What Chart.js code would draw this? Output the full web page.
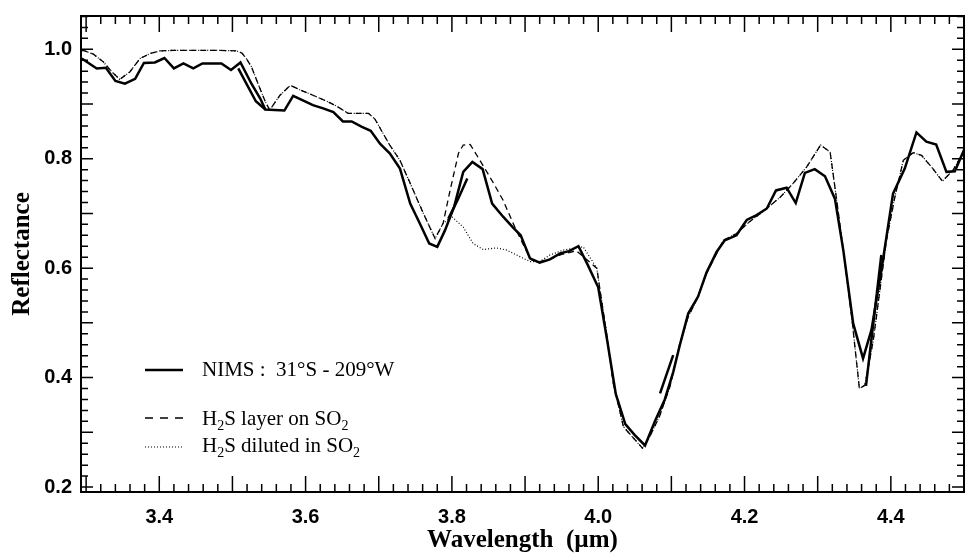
<!DOCTYPE html>
<html>
<head>
<meta charset="utf-8">
<script src="https://cdn.jsdelivr.net/npm/chart.js@4.4.1/dist/chart.umd.min.js"></script>
<style>
  html, body { margin: 0; padding: 0; background: #fff; }
  #wrap { position: relative; width: 965px; height: 554px; }
  .key { position: absolute; left: 202px; font-family: "Liberation Serif", "Times New Roman", serif; font-size: 21px; line-height: 21px; color: #000; white-space: nowrap; }
  .key sub { font-size: 14px; vertical-align: baseline; position: relative; top: 5px; }
  .sample { position: absolute; left: 145px; }
</style>
</head>
<body>
<div id="wrap">
  <canvas id="spectrum" width="965" height="554"></canvas>

  <svg class="sample" style="top:367px" width="40" height="6"><line x1="0" y1="3" x2="38" y2="3" stroke="#000" stroke-width="2.5"/></svg>
  <div class="key" style="top:359px">NIMS :&nbsp; 31°S - 209°W</div>

  <svg class="sample" style="top:415px" width="40" height="6"><line x1="0" y1="3" x2="38" y2="3" stroke="#000" stroke-width="1.3" stroke-dasharray="8 7"/></svg>
  <div class="key" style="top:408px">H<sub>2</sub>S layer on SO<sub>2</sub></div>

  <svg class="sample" style="top:444px" width="40" height="6"><line x1="0" y1="3" x2="38" y2="3" stroke="#000" stroke-width="1.2" stroke-dasharray="1 2"/></svg>
  <div class="key" style="top:435px">H<sub>2</sub>S diluted in SO<sub>2</sub></div>
</div>

<script>
// tick labels
const xTickLabels = [3.4, 3.6, 3.8, 4.0, 4.2, 4.4];
const yTickLabels = [0.2, 0.4, 0.6, 0.8, 1.0];

// NIMS spectrum
const nimsWave = [3.294, 3.3145, 3.327, 3.340, 3.353, 3.367, 3.379, 3.394, 3.407, 3.420, 3.433, 3.4465, 3.459, 3.472, 3.485, 3.498,
  3.511, 3.526, 3.538, 3.545, 3.558, 3.571, 3.583, 3.597, 3.610, 3.624, 3.638, 3.651, 3.663, 3.677, 3.689, 3.702, 3.715, 3.729,
  3.743, 3.756, 3.769, 3.780, 3.7905, 3.803, 3.8155, 3.828, 3.842, 3.855, 3.870, 3.883, 3.894, 3.9067, 3.920, 3.934, 3.948,
  3.960, 3.973, 3.986, 4.000, 4.012, 4.024, 4.037, 4.050, 4.064, 4.0775, 4.091, 4.1025, 4.1115, 4.123, 4.1365, 4.148, 4.162,
  4.173, 4.189, 4.203, 4.2165, 4.2305, 4.243, 4.2575, 4.270, 4.2825, 4.296, 4.310, 4.3235, 4.335, 4.3485, 4.362, 4.3735, 4.387,
  4.403, 4.419, 4.435, 4.4485, 4.462, 4.476, 4.4875, 4.501];
const nimsRefl = [0.983, 0.965, 0.966, 0.942, 0.937, 0.946, 0.975, 0.976, 0.984, 0.965, 0.974, 0.965, 0.974, 0.974, 0.974, 0.962,
  0.976, 0.937, 0.910, 0.890, 0.889, 0.888, 0.915, 0.906, 0.898, 0.892, 0.885, 0.868, 0.868, 0.858, 0.851, 0.827, 0.810, 0.782,
  0.718, 0.682, 0.645, 0.639, 0.669, 0.712, 0.776, 0.794, 0.781, 0.718, 0.694, 0.675, 0.660, 0.618, 0.610, 0.616, 0.627,
  0.631, 0.640, 0.605, 0.565, 0.470, 0.370, 0.315, 0.295, 0.276, 0.320, 0.360, 0.410, 0.459, 0.517, 0.548, 0.592, 0.630,
  0.651, 0.660, 0.688, 0.697, 0.709, 0.742, 0.747, 0.719, 0.774, 0.781, 0.768, 0.727, 0.633, 0.499, 0.435, 0.487, 0.596,
  0.736, 0.782, 0.848, 0.831, 0.826, 0.776, 0.777, 0.819];

// short overlapping NIMS pieces
const nimsPieceWave = [[3.508, 3.520, 3.532, 3.545], [3.795, 3.808, 3.821], [4.0845, 4.1025], [4.366, 4.387]];
const nimsPieceRefl = [[0.965, 0.935, 0.905, 0.890], [0.690, 0.725, 0.764], [0.371, 0.441], [0.385, 0.624]];

// models: common part below 3.79 µm
const modelWaveA = [3.294, 3.298, 3.310, 3.3235, 3.335, 3.346, 3.360, 3.3735, 3.387, 3.401, 3.420, 3.450, 3.480, 3.506, 3.513,
  3.519, 3.526, 3.535, 3.545, 3.551, 3.565, 3.579, 3.592, 3.610, 3.629, 3.6425, 3.658, 3.686, 3.695, 3.706, 3.715, 3.729,
  3.745, 3.761, 3.777, 3.788];
const modelReflA = [0.998, 0.997, 0.991, 0.977, 0.959, 0.945, 0.959, 0.983, 0.992, 0.997, 0.998, 0.998, 0.998, 0.997, 0.993,
  0.983, 0.968, 0.937, 0.904, 0.889, 0.916, 0.934, 0.926, 0.916, 0.905, 0.896, 0.883, 0.883, 0.872, 0.846, 0.825, 0.797,
  0.749, 0.700, 0.654, 0.682];

// H2S layer on SO2 (3.79 - 3.98 µm)
const layerWave = [3.797, 3.809, 3.8155, 3.825, 3.841, 3.857, 3.870, 3.886, 3.900, 3.909, 3.920, 3.935, 3.950, 3.970];
const layerRefl = [0.739, 0.810, 0.825, 0.826, 0.791, 0.755, 0.724, 0.675, 0.636, 0.615, 0.612, 0.617, 0.625, 0.632];

// H2S diluted in SO2 (3.79 - 3.98 µm)
const dilutedWave = [3.800, 3.8155, 3.829, 3.843, 3.861, 3.875, 3.893, 3.9067, 3.920, 3.934, 3.952, 3.9795];
const dilutedRefl = [0.694, 0.675, 0.645, 0.634, 0.637, 0.633, 0.621, 0.612, 0.612, 0.624, 0.633, 0.639];

// models: common part above 3.98 µm
const modelWaveB = [3.998, 4.0115, 4.0205, 4.0345, 4.0605, 4.0705, 4.084, 4.098, 4.1115, 4.123, 4.1345, 4.148, 4.171, 4.189,
  4.207, 4.2305, 4.249, 4.2665, 4.285, 4.304, 4.317, 4.326, 4.338, 4.3465, 4.357, 4.3645, 4.376, 4.394, 4.4055, 4.417,
  4.4305, 4.442, 4.4555, 4.4705, 4.485, 4.501];
const modelReflB = [0.600, 0.480, 0.390, 0.310, 0.271, 0.292, 0.330, 0.383, 0.462, 0.511, 0.542, 0.590, 0.651, 0.663,
  0.685, 0.709, 0.730, 0.755, 0.785, 0.825, 0.812, 0.724, 0.602, 0.511, 0.380, 0.386, 0.468, 0.651, 0.730, 0.797,
  0.811, 0.806, 0.785, 0.759, 0.779, 0.816];

function toPoints(w, r) {
    return w.map((v, i) => ({ x: v, y: r[i] }));
}

const lineStyle = { borderColor: '#000', pointRadius: 0, tension: 0, fill: false };

const datasets = [
    { ...lineStyle, label: 'NIMS', data: toPoints(nimsWave, nimsRefl), borderWidth: 2.5 },
    ...nimsPieceWave.map((w, i) => ({ ...lineStyle, label: 'NIMS piece', data: toPoints(w, nimsPieceRefl[i]), borderWidth: 2.5 })),
    {
        ...lineStyle, label: 'H2S layer on SO2', borderWidth: 1.3, borderDash: [6, 4],
        data: toPoints([...modelWaveA, ...layerWave, ...modelWaveB], [...modelReflA, ...layerRefl, ...modelReflB])
    },
    {
        ...lineStyle, label: 'H2S diluted in SO2', borderWidth: 1.2, borderDash: [1, 2],
        data: toPoints([...modelWaveA, ...dilutedWave, ...modelWaveB], [...modelReflA, ...dilutedRefl, ...modelReflB])
    }
];

// frame on four sides with inward ticks
const frameTicks = {
    id: 'frameTicks',
    afterDatasetsDraw(chart) {
        const { ctx, chartArea: a, scales: { x, y } } = chart;
        ctx.save();
        ctx.strokeStyle = '#000';
        ctx.lineWidth = 1.5;
        ctx.beginPath();
        for (let i = 0; i <= 60; i++) {
            const px = x.getPixelForValue(3.3 + i * 0.02);
            const len = i % 5 === 0 ? 16 : 8;
            ctx.moveTo(px, a.bottom); ctx.lineTo(px, a.bottom - len);
            ctx.moveTo(px, a.top); ctx.lineTo(px, a.top + len);
        }
        for (let i = 0; i <= 43; i++) {
            const py = y.getPixelForValue(0.2 + i * 0.02);
            const len = i % 5 === 0 ? 12 : 7;
            ctx.moveTo(a.left, py); ctx.lineTo(a.left + len, py);
            ctx.moveTo(a.right, py); ctx.lineTo(a.right - len, py);
        }
        ctx.stroke();
        ctx.lineWidth = 2;
        ctx.strokeRect(a.left, a.top, a.right - a.left, a.bottom - a.top);
        ctx.restore();
    }
};

const tickFont = { family: 'Liberation Sans', size: 20, weight: 'bold' };
const titleFont = { family: 'Liberation Serif', size: 25, weight: 'bold', lineHeight: 1 };

new Chart(document.getElementById('spectrum'), {
    type: 'line',
    data: { datasets: datasets },
    plugins: [frameTicks],
    options: {
        responsive: false,
        animation: false,
        layout: { padding: { top: 16, right: 1, left: 0, bottom: 0 } },
        plugins: { legend: { display: false }, tooltip: { enabled: false } },
        scales: {
            x: {
                type: 'linear', min: 3.293, max: 4.5,
                grid: { display: false, drawTicks: false },
                border: { display: false },
                afterBuildTicks: s => { s.ticks = xTickLabels.map(v => ({ value: v })); },
                afterFit: s => { s.height = 62; s.paddingLeft = 0; s.paddingRight = 0; },
                ticks: { callback: v => v.toFixed(1), font: tickFont, color: '#000', padding: 13, maxRotation: 0, autoSkip: false },
                title: { display: true, text: 'Wavelength  (µm)', color: '#000', font: titleFont, padding: { top: 0, bottom: 1 } }
            },
            y: {
                type: 'linear', min: 0.1909, max: 1.0608,
                grid: { display: false, drawTicks: false },
                border: { display: false },
                afterBuildTicks: s => { s.ticks = yTickLabels.map(v => ({ value: v })); },
                afterFit: s => { s.width = 81; s.paddingTop = 0; s.paddingBottom = 0; },
                ticks: { callback: v => v.toFixed(1), font: tickFont, color: '#000', padding: 9, autoSkip: false },
                title: { display: true, text: 'Reflectance', color: '#000', font: titleFont, padding: { top: 10, bottom: 0 } }
            }
        }
    }
});
</script>
</body>
</html>
